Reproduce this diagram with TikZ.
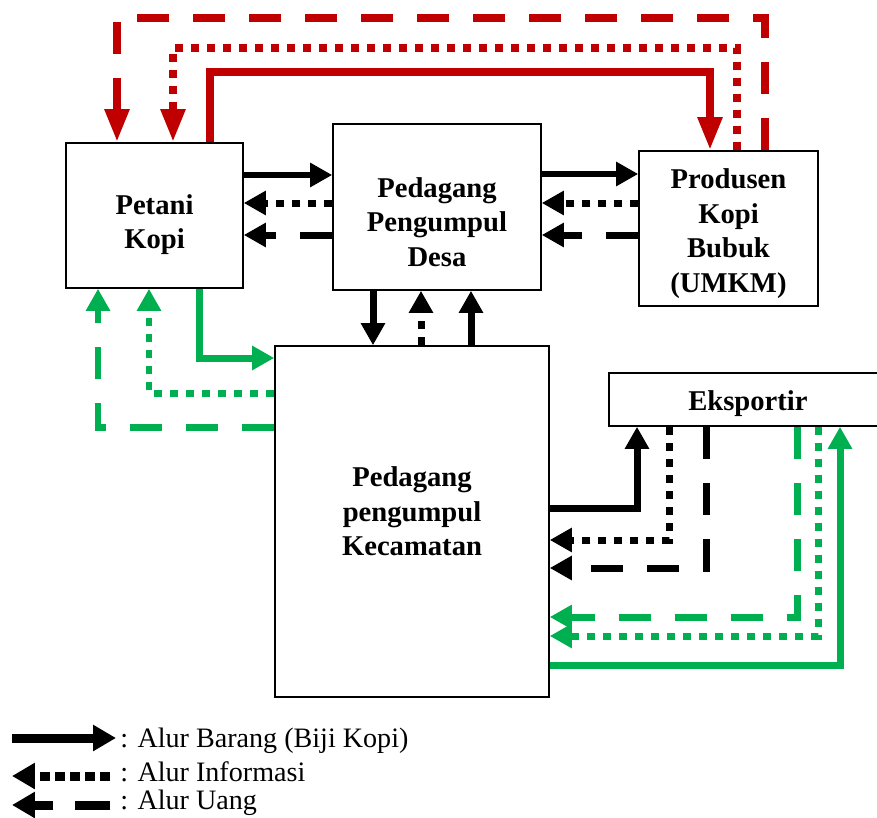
\documentclass[tikz,border=0pt]{standalone}
\usepackage{fontspec}
\setmainfont{Liberation Serif}
\usepackage{tikz}
\usetikzlibrary{arrows.meta}
\usetikzlibrary{positioning}

\definecolor{darkred}{HTML}{C00000}
\definecolor{flowgreen}{HTML}{00B050}

\tikzset{
  actor/.style={rectangle, draw=black, line width=0.9pt, fill=white},
  actortext/.style={align=center, inner sep=0pt, font=\fontsize{16.3}{19.7}\selectfont\bfseries},
  goods/.style={line width=0.14cm, -{Triangle[length=0.44cm, width=0.46cm]}},
  info/.style={goods, dash pattern=on 0.16cm off 0.16cm},
  money/.style={goods, dash pattern=on 0.64cm off 0.48cm},
  redhead/.style={darkred, line width=0.16cm, -{Triangle[length=0.66cm, width=0.46cm]}},
  keyline/.style={line width=0.18cm, -{Triangle[length=0.46cm, width=0.5cm]}},
  keytext/.style={anchor=west, inner sep=0pt, font=\fontsize{16}{19.3}\selectfont}
}

\begin{document}
\begin{tikzpicture}[x=0.02cm, y=-0.02cm]

\useasboundingbox (0,0) rectangle (877,818);

%% actors
\node at (154.5,215.5) [actor, minimum width=3.54cm, minimum height=2.9cm] (petani) {};
\node at ([yshift=-0.18cm]petani.center) [actortext] (petanitext) {Petani\\Kopi};
\node at (437,207) [actor, minimum width=4.16cm, minimum height=3.32cm] (desa) {};
\node at ([yshift=-0.3cm]desa.center) [actortext] (desatext) {Pedagang\\Pengumpul\\Desa};
\node at (728.5,228.5) [actor, minimum width=3.58cm, minimum height=3.1cm] (produsen) {};
\node at ([yshift=-0.1cm]produsen.center) [actortext] (produsentext) {Produsen\\Kopi\\Bubuk\\(UMKM)};
\node at (412,521.5) [actor, minimum width=5.48cm, minimum height=7.02cm] (kec) {};
\node at ([yshift=0.2cm]kec.center) [actortext] (kectext) {Pedagang\\pengumpul\\Kecamatan};
\node at (748,399.5) [actor, minimum width=5.56cm, minimum height=1.06cm] (eks) {};
\node at ([yshift=-0.08cm]eks.center) [actortext] (ekstext) {Eksportir};

%% petani <-> desa <-> produsen
\draw [goods] (petani.east |- 0,175) -- (desa.west |- 0,175);
\draw [info] (desa.west |- 0,203) -- (petani.east |- 0,203);
\draw [money] (desa.west |- 0,235) -- (petani.east |- 0,235);

\draw [goods] (desa.east |- 0,174) -- (produsen.west |- 0,174);
\draw [info] (produsen.west |- 0,203) -- (desa.east |- 0,203);
\draw [money] (produsen.west |- 0,235) -- (desa.east |- 0,235);

%% desa <-> kecamatan
\draw [goods] (desa.south -| 373,0) -- (kec.north -| 373,0);
\draw [info] (kec.north -| 421,0) -- (desa.south -| 421,0);
\draw [money] (kec.north -| 471,0) -- (desa.south -| 471,0);

%% kecamatan <-> eksportir
\draw [goods] (kec.east |- 0,508) -| (eks.south -| 637,0);
\draw [info] (eks.south -| 669,0) |- (kec.east |- 0,540);
\draw [money] (eks.south -| 706,0) |- (kec.east |- 0,568);

\begin{scope}[flowgreen]
	\draw [money] (eks.south -| 797,0) |- (kec.east |- 0,617);
	\draw [info] (eks.south -| 818,0) |- (kec.east |- 0,636);
	\draw [goods] (kec.east |- 0,665) -| (eks.south -| 840,0);

	\draw [goods] (petani.south -| 199,0) |- (kec.west |- 0,358);
	\draw [info] (kec.west |- 0,393) -| (petani.south -| 149,0);
	\draw [money] (kec.west |- 0,427) -| (petani.south -| 98,0);
\end{scope}

%% petani <-> produsen
\draw [redhead, dash pattern=on 0.64cm off 0.48cm] (produsen.north -| 765,0) |- (117,18) -- (petani.north -| 117,0);
\draw [redhead, dash pattern=on 0.16cm off 0.16cm] (produsen.north -| 737,0) |- (173,48) -- (petani.north -| 173,0);
\draw [redhead] (petani.north -| 210,0) |- (710,72) -- (produsen.north -| 710,0);

%% key
\coordinate (k1a) at (12,738);
\coordinate (k1b) at (116,738);
\coordinate (k2a) at (110,776);
\coordinate (k2b) at (12,776);
\coordinate (k3a) at (110,805);
\coordinate (k3b) at (12,805);
\draw [keyline] (k1a) -- (k1b);
\draw [keyline, dash pattern=on 0.2cm off 0.1cm] (k2a) -- (k2b);
\draw [keyline, dash pattern=on 0.7cm off 0.44cm] (k3a) -- (k3b);
\node [keytext] at (120,741) (key1) {: Alur Barang (Biji Kopi)};
\node [keytext] at (120,772) (key2) {: Alur Informasi};
\node [keytext] at (120,803) (key3) {: Alur Uang};

\end{tikzpicture}
\end{document}
